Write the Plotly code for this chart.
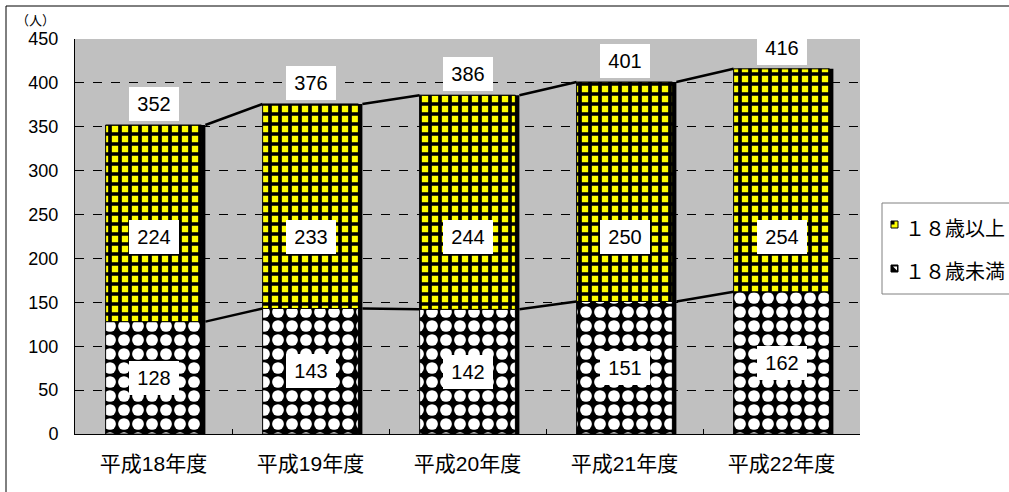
import plotly.graph_objects as go

categories = ["平成18年度", "平成19年度", "平成20年度", "平成21年度", "平成22年度"]
under18 = [128, 143, 142, 151, 162]
over18 = [224, 233, 244, 250, 254]
totals = [a + b for a, b in zip(under18, over18)]
y_ticks = [0, 50, 100, 150, 200, 250, 300, 350, 400, 450]
legend_names = ["１８歳以上", "１８歳未満"]

FONT = "Liberation Sans, Arial, Noto Sans CJK JP, sans-serif"
CJK = "Noto Sans CJK JP, sans-serif"
W = 0.61
UPPER_LABEL_Y = 224  # label placement for the upper segment values
L, R, T, B = 75, 149, 39, 58
PW, PH = 1009 - L - R, 492 - T - B
px_x = 1 / (PW / 5)  # one pixel in x units


def pxx(px):
    return (px - L) / PW


def pxy(py):
    return (492 - B - py) / PH


x = list(range(len(categories)))
fig = go.Figure()

# shadow
fig.add_trace(go.Bar(x=x, y=totals, base=0, width=W, offset=-W / 2 + 4 * px_x,
                     marker=dict(color="black", line=dict(width=0)), opacity=1,
                     showlegend=False, hoverinfo="skip"))
fig.add_trace(go.Bar(x=x, y=under18, base=0, width=W, name=legend_names[1], opacity=1,
                     marker=dict(color="black", line=dict(width=1, color="black"),
                                 pattern=dict(shape=".", bgcolor="black", fgcolor="white",
                                              fgopacity=1, size=14, solidity=0.55))))
fig.add_trace(go.Bar(x=x, y=over18, base=under18, width=W, name=legend_names[0], opacity=1,
                     marker=dict(color="yellow", line=dict(width=1, color="black"),
                                 pattern=dict(shape="+", bgcolor="yellow", fgcolor="black",
                                              fgopacity=1, size=10, solidity=0.6))))

# connecting lines
for series in (under18, totals):
    for i in range(len(x) - 1):
        fig.add_trace(go.Scatter(x=[x[i] + W / 2 + 4 * px_x, x[i + 1] - W / 2],
                                 y=[series[i], series[i + 1]], mode="lines",
                                 line=dict(color="black", width=2.5),
                                 showlegend=False, hoverinfo="skip"))

lab = dict(showarrow=False, bgcolor="white", bordercolor="white",
           font=dict(size=20, color="black", family=FONT), width=46, height=30)
ann = []
for i in range(len(x)):
    ann.append(dict(x=x[i], y=under18[i] / 2, text=str(under18[i]), **lab))
    ann.append(dict(x=x[i], y=UPPER_LABEL_Y, text=str(over18[i]), **lab))
    ann.append(dict(x=x[i], y=totals[i], text=str(totals[i]), yanchor="bottom", yshift=4, **lab))
ann.append(dict(xref="paper", yref="paper", x=pxx(14), y=pxy(20),
                text="（人）", showarrow=False, xanchor="left", yanchor="middle",
                font=dict(size=13, color="black", family=CJK)))
# legend texts
ann.append(dict(xref="paper", yref="paper", x=pxx(903), y=pxy(227), text=legend_names[0],
                showarrow=False, xanchor="left", yanchor="middle",
                font=dict(size=20, color="black", family=CJK)))
ann.append(dict(xref="paper", yref="paper", x=pxx(903), y=pxy(270), text=legend_names[1],
                showarrow=False, xanchor="left", yanchor="middle",
                font=dict(size=20, color="black", family=CJK)))

shapes = [
    dict(type="rect", xref="paper", yref="paper", x0=pxx(6), x1=pxx(1100),
         y0=pxy(520), y1=pxy(6), line=dict(color="black", width=1), layer="below"),
    # legend box
    dict(type="rect", xref="paper", yref="paper", x0=pxx(882), x1=pxx(1100),
         y0=pxy(294), y1=pxy(203), line=dict(color="#808080", width=1),
         fillcolor="white", layer="above"),
    # legend symbols
    dict(type="rect", xref="paper", yref="paper", x0=pxx(891), x1=pxx(898),
         y0=pxy(228), y1=pxy(221), line=dict(color="black", width=1),
         fillcolor="yellow", layer="above"),
    dict(type="rect", xref="paper", yref="paper", x0=pxx(891), x1=pxx(894.5),
         y0=pxy(224.5), y1=pxy(221), line=dict(width=0),
         fillcolor="black", layer="above"),
    dict(type="rect", xref="paper", yref="paper", x0=pxx(891), x1=pxx(898),
         y0=pxy(272), y1=pxy(265), line=dict(color="black", width=1),
         fillcolor="black", layer="above"),
    dict(type="path", xref="paper", yref="paper",
         path=f"M {pxx(893)},{pxy(266.5)} L {pxx(897)},{pxy(266.5)} L {pxx(897)},{pxy(270.5)} Z",
         line=dict(width=0), fillcolor="white", layer="above"),
]

fig.update_layout(
    width=1009, height=492,
    barmode="overlay",
    showlegend=False,
    margin=dict(l=L, r=R, t=T, b=B, autoexpand=False),
    paper_bgcolor="white", plot_bgcolor="#C0C0C0",
    font=dict(family=FONT, color="black", size=16),
    annotations=ann,
    shapes=shapes,
    xaxis=dict(range=[-0.5, 4.5], tickvals=x, ticktext=categories, ticks="",
               showgrid=False, zeroline=False, showline=True, linecolor="black",
               linewidth=1, mirror=False, tickfont=dict(size=21, family=FONT),
               ticklabelstandoff=11,
               minor=dict(tickvals=[0.5, 1.5, 2.5, 3.5], ticks="inside", ticklen=5,
                          tickcolor="black", showgrid=False)),
    yaxis=dict(range=[0, 450], tickvals=y_ticks, showgrid=True, gridcolor="black",
               griddash="dash", gridwidth=1, zeroline=False, showline=True,
               linecolor="black", linewidth=1, ticks="", tickfont=dict(size=18),
               ticklabelstandoff=12),
)

fig.write_html("out.html")
